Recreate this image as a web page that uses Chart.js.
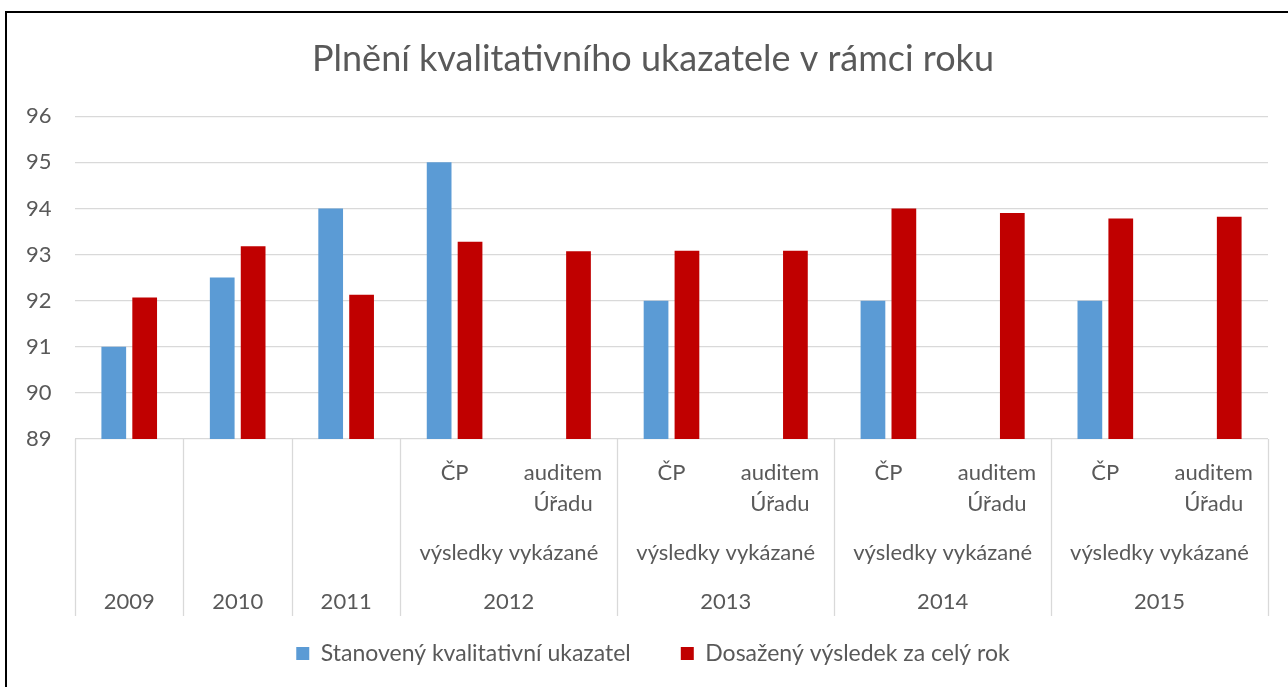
<!DOCTYPE html>
<html>
<head>
<meta charset="utf-8">
<script src="https://cdn.jsdelivr.net/npm/chart.js@4"></script>
<style>
  body { margin: 0; background: #fff; }
  #wrap { position: relative; width: 1288px; height: 687px; overflow: hidden; }
  #frame { position: absolute; left: 5px; top: 11px; width: 1400px; height: 800px;
           border-top: 2px solid #000; border-left: 2px solid #000; }
  canvas { position: absolute; left: 0; top: 0; }
</style>
</head>
<body>
<div id="wrap">
  <div id="frame"></div>
  <canvas id="kvalita" width="1288" height="687"></canvas>
</div>
<script>
// kategorie na ose x (rok + typ vysledku)
const years = ['2009', '2010', '2011', '2012', '2012', '2013', '2013', '2014', '2014', '2015', '2015'];
const subLabels = ['', '', '', 'ČP', 'auditem Úřadu', 'ČP', 'auditem Úřadu', 'ČP', 'auditem Úřadu', 'ČP', 'auditem Úřadu'];
const midLabel = 'výsledky vykázané';

const stanoveny = [91, 92.5, 94, 95, null, 92, null, 92, null, 92, null];
const dosazeny = [92.07, 93.18, 92.13, 93.28, 93.07, 93.08, 93.08, 94.0, 93.9, 93.78, 93.82];

const yTicks = [89, 90, 91, 92, 93, 94, 95, 96];

const textColor = '#595959';
const gridColor = '#d9d9d9';
const labelFont = '22px Lato';

Chart.defaults.font.family = 'Lato';
Chart.defaults.color = textColor;

// popisky vicestupnove osy x (Excel styl)
const multiAxisPlugin = {
  id: 'multiAxis',
  afterDraw(chart) {
    const ctx = chart.ctx;
    const x = chart.scales.x;
    const bottom = chart.chartArea.bottom;
    const catW = x.width / years.length;
    ctx.save();
    ctx.font = labelFont;
    ctx.fillStyle = textColor;
    ctx.textAlign = 'center';
    ctx.textBaseline = 'middle';

    // vnitrni popisky
    subLabels.forEach((lab, i) => {
      if (!lab) return;
      const cx = x.getPixelForValue(i);
      const parts = lab.split(' ');
      parts.forEach((p, k) => ctx.fillText(p, cx, bottom + 34 + k * 31));
    });

    // skupiny podle roku
    let start = 0;
    const bounds = [0];
    for (let i = 1; i <= years.length; i++) {
      if (i === years.length || years[i] !== years[start]) {
        const left = x.getPixelForValue(start) - catW / 2;
        const right = x.getPixelForValue(i - 1) + catW / 2;
        const cx = (left + right) / 2;
        if (subLabels[start]) ctx.fillText(midLabel, cx, bottom + 114);
        ctx.fillText(years[start], cx, bottom + 163);
        bounds.push(i);
        start = i;
      }
    }

    ctx.strokeStyle = gridColor;
    ctx.lineWidth = 1.3;
    bounds.forEach(b => {
      const px = Math.round(x.getPixelForValue(b) - catW / 2) + 0.5;
      ctx.beginPath();
      ctx.moveTo(px, bottom);
      ctx.lineTo(px, bottom + 177);
      ctx.stroke();
    });
    ctx.restore();
  }
};

new Chart(document.getElementById('kvalita'), {
  type: 'bar',
  data: {
    labels: years.map((y, i) => y + ' ' + subLabels[i]),
    datasets: [
      {
        label: 'Stanovený kvalitativní ukazatel',
        data: stanoveny,
        backgroundColor: '#5b9bd5'
      },
      {
        label: 'Dosažený výsledek za celý rok',
        data: dosazeny,
        backgroundColor: '#c00000'
      }
    ]
  },
  options: {
    responsive: false,
    animation: false,
    layout: { padding: { left: 38, right: 20, top: 0, bottom: 12 } },
    datasets: { bar: { categoryPercentage: 0.57, barPercentage: 0.8 } },
    plugins: {
      title: {
        display: true,
        text: 'Plnění kvalitativního ukazatele v rámci roku',
        color: textColor,
        font: { size: 36, weight: 'normal' },
        padding: { top: 38, bottom: 35 }
      },
      legend: {
        position: 'bottom',
        labels: {
          color: textColor,
          font: { size: 23 },
          boxWidth: 13,
          boxHeight: 13,
          padding: 50
        }
      },
      tooltip: { enabled: false }
    },
    scales: {
      x: {
        grid: { display: false },
        border: { display: false },
        ticks: { display: false },
        afterFit: s => { s.height = 153; }
      },
      y: {
        min: 89,
        max: 96,
        afterBuildTicks: s => { s.ticks = yTicks.map(v => ({ value: v })); },
        grid: { color: gridColor, lineWidth: 1.3, drawTicks: false },
        border: { display: false },
        // mirror = popisky se neorezavaji, posunuty zpet vlevo od osy
        ticks: { font: { size: 22 }, color: textColor, mirror: true, padding: -49 },
        afterFit: s => { s.width = 37; }
      }
    }
  },
  plugins: [multiAxisPlugin]
});
</script>
</body>
</html>
